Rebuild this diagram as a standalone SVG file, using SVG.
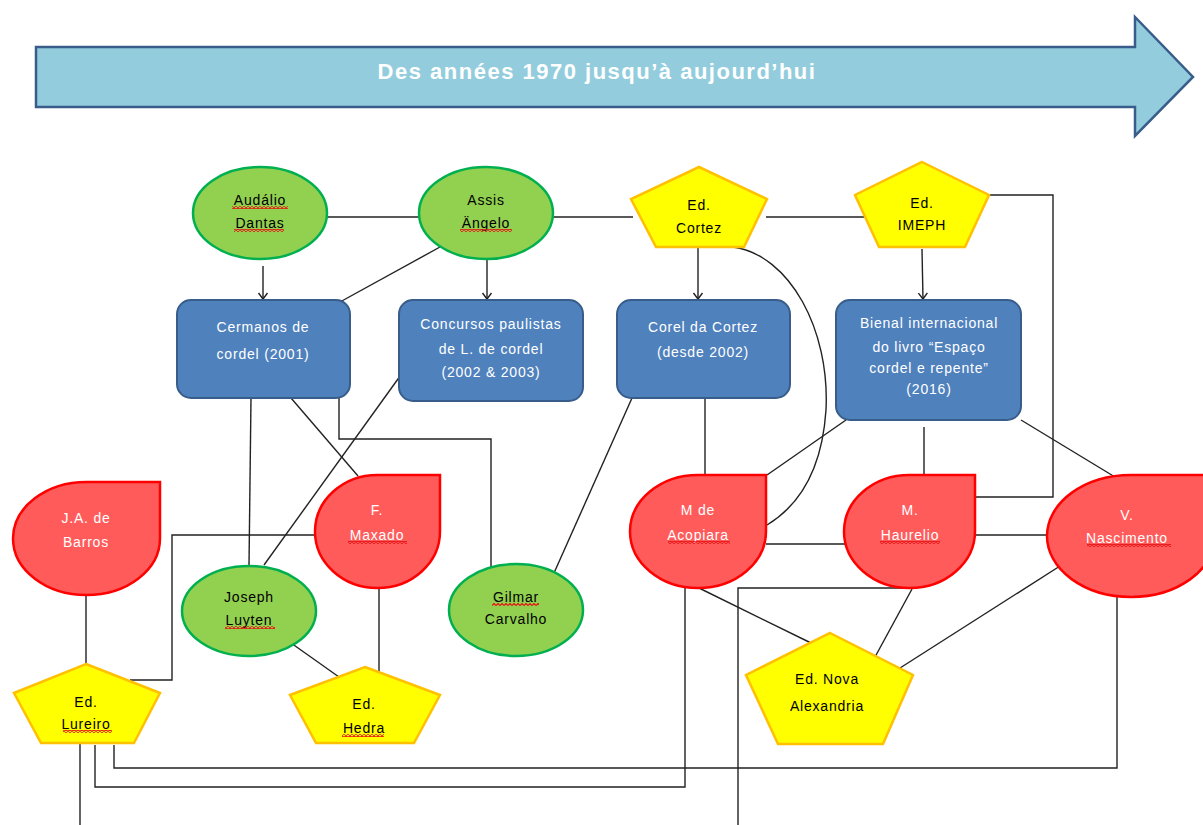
<svg xmlns="http://www.w3.org/2000/svg" width="1203" height="825" viewBox="0 0 1203 825">
<style>
.t{font-family:"Liberation Sans",Arial,sans-serif;font-size:14px;letter-spacing:0.8px;text-anchor:middle}
.w{fill:#fff}
.k{fill:#000}
.green{fill:#92D050;stroke:#00B050;stroke-width:2.5}
.red{fill:#FF5B5B;stroke:#FF0000;stroke-width:2.5}
.yel{fill:#FFFF00;stroke:#FFC000;stroke-width:2.5}
.blue{fill:#4F81BD;stroke:#385D8A;stroke-width:2}
.c{fill:none;stroke:#222;stroke-width:1.4}
.sp{fill:url(#wavy)}
</style>
<defs>
<marker id="arr" markerWidth="12" markerHeight="12" refX="9" refY="6" orient="auto" markerUnits="userSpaceOnUse">
<path d="M3,1.5 L9,6 L3,10.5" fill="none" stroke="#222" stroke-width="1.4"/>
</marker>
<pattern id="wavy" width="4" height="3" patternUnits="userSpaceOnUse">
<path d="M0,2.5 L2,0.5 L4,2.5" fill="none" stroke="#E81010" stroke-width="1.2"/>
</pattern>
</defs>

<g id="banner">
<path d="M36,47 L1135,47 L1135,17 L1193,77 L1135,136 L1135,107 L36,107 Z" fill="#93CDDD" stroke="#385D8A" stroke-width="2.5"/>
<text x="597" y="79" style="font-family:'Liberation Sans',Arial,sans-serif;font-size:22px;font-weight:bold;letter-spacing:1.5px;text-anchor:middle" fill="#fff">Des années 1970 jusqu’à aujourd’hui</text>
</g>

<g id="connectors">
<line class="c" x1="327" y1="217" x2="419" y2="217"/>
<line class="c" x1="553" y1="217" x2="633" y2="217"/>
<line class="c" x1="766" y1="217" x2="865" y2="217"/>
<line class="c" x1="263" y1="266" x2="263" y2="299" marker-end="url(#arr)"/>
<line class="c" x1="487" y1="259" x2="487" y2="299" marker-end="url(#arr)"/>
<line class="c" x1="440" y1="247" x2="340" y2="302"/>
<line class="c" x1="698" y1="247" x2="698" y2="299" marker-end="url(#arr)"/>
<line class="c" x1="922" y1="249" x2="923" y2="299" marker-end="url(#arr)"/>
<polyline class="c" points="989,195 1053,195 1053,497 976,497"/>
<path class="c" d="M733,247 C790,255 830,330 826,410 C822,470 800,505 767,525"/>
<line class="c" x1="705" y1="398" x2="705" y2="475"/>
<line class="c" x1="632" y1="398" x2="554" y2="573"/>
<line class="c" x1="846" y1="420" x2="767" y2="475"/>
<line class="c" x1="924" y1="427" x2="924" y2="475"/>
<line class="c" x1="1021" y1="420" x2="1115" y2="477"/>
<line class="c" x1="766" y1="544" x2="846" y2="544"/>
<line class="c" x1="976" y1="535" x2="1048" y2="535"/>
<line class="c" x1="699" y1="588" x2="811" y2="643"/>
<line class="c" x1="912" y1="589" x2="875" y2="657"/>
<line class="c" x1="1060" y1="566" x2="900" y2="668"/>
<polyline class="c" points="685,588 685,787 95,787 95,745"/>
<polyline class="c" points="902,588 738,588 738,825"/>
<polyline class="c" points="1117,597 1117,768 114,768 114,745"/>
<line class="c" x1="80" y1="743" x2="80" y2="825"/>
<line class="c" x1="251" y1="398" x2="249" y2="566"/>
<line class="c" x1="291" y1="398" x2="358" y2="476"/>
<polyline class="c" points="339,398 339,439 491,439 491,575"/>
<line class="c" x1="403" y1="372" x2="264" y2="565"/>
<polyline class="c" points="317,535 172,535 172,680 130,680"/>
<line class="c" x1="86" y1="595" x2="86" y2="664"/>
<line class="c" x1="291" y1="643" x2="339" y2="677"/>
<line class="c" x1="379" y1="588" x2="379" y2="677"/>
</g>

<g id="audalio">
<ellipse class="green" cx="260" cy="213" rx="67" ry="46"/>
<text class="t k" x="260" y="205">Audálio</text>
<text class="t k" x="260" y="228">Dantas</text>
<rect class="sp" x="232" y="206" width="56" height="3"/>
<rect class="sp" x="234" y="229" width="50" height="3"/>
</g>
<g id="assis">
<ellipse class="green" cx="486" cy="213" rx="67" ry="46"/>
<text class="t k" x="486" y="205">Assis</text>
<text class="t k" x="486" y="228">Ängelo</text>
<rect class="sp" x="460" y="229" width="52" height="3"/>
</g>
<g id="cortez">
<polygon class="yel" points="699,167 767,199 744,247 656,247 631,199"/>
<text class="t k" x="699" y="210">Ed.</text>
<text class="t k" x="699" y="233">Cortez</text>
</g>
<g id="imeph">
<polygon class="yel" points="922,162 989,195 965,247 879,247 855,195"/>
<text class="t k" x="922" y="208">Ed.</text>
<text class="t k" x="922" y="230">IMEPH</text>
</g>

<g id="cermanos">
<rect class="blue" x="177" y="300" width="173" height="98" rx="14"/>
<text class="t w" x="263" y="332">Cermanos de</text>
<text class="t w" x="263" y="359">cordel (2001)</text>
</g>
<g id="concursos">
<rect class="blue" x="399" y="300" width="184" height="101" rx="14"/>
<text class="t w" x="491" y="329">Concursos paulistas</text>
<text class="t w" x="491" y="354">de L. de cordel</text>
<text class="t w" x="491" y="377">(2002 &amp; 2003)</text>
</g>
<g id="corel">
<rect class="blue" x="617" y="300" width="173" height="98" rx="14"/>
<text class="t w" x="703" y="332">Corel da Cortez</text>
<text class="t w" x="703" y="357">(desde 2002)</text>
</g>
<g id="bienal">
<rect class="blue" x="836" y="300" width="185" height="120" rx="14"/>
<text class="t w" x="929" y="328">Bienal internacional</text>
<text class="t w" x="929" y="352">do livro “Espaço</text>
<text class="t w" x="929" y="373">cordel e repente”</text>
<text class="t w" x="929" y="394">(2016)</text>
</g>

<g id="barros">
<path class="red" d="M86.5,482 L160,482 L160,538.5 A73.5,56.5 0 0 1 86.5,595 A73.5,56.5 0 0 1 13,538.5 A73.5,56.5 0 0 1 86.5,482 Z"/>
<text class="t w" x="86" y="523">J.A. de</text>
<text class="t w" x="86" y="547">Barros</text>
</g>
<g id="maxado">
<path class="red" d="M377.5,475 L440,475 L440,531.5 A62.5,56.5 0 0 1 377.5,588 A62.5,56.5 0 0 1 315,531.5 A62.5,56.5 0 0 1 377.5,475 Z"/>
<text class="t w" x="377" y="515">F.</text>
<text class="t w" x="377" y="540">Maxado</text>
<rect class="sp" x="348" y="541" width="59" height="3"/>
</g>
<g id="acopiara">
<path class="red" d="M698,475 L766,475 L766,531.5 A68,56.5 0 0 1 698,588 A68,56.5 0 0 1 630,531.5 A68,56.5 0 0 1 698,475 Z"/>
<text class="t w" x="698" y="515">M de</text>
<text class="t w" x="698" y="540">Acopiara</text>
<rect class="sp" x="668" y="541" width="62" height="3"/>
</g>
<g id="haurelio">
<path class="red" d="M909.5,475 L975,475 L975,531.5 A65.5,56.5 0 0 1 909.5,588 A65.5,56.5 0 0 1 844,531.5 A65.5,56.5 0 0 1 909.5,475 Z"/>
<text class="t w" x="910" y="515">M.</text>
<text class="t w" x="910" y="540">Haurelio</text>
<rect class="sp" x="880" y="541" width="60" height="3"/>
</g>
<g id="nascimento">
<path class="red" d="M1131,475 L1215,475 L1215,536 A84,61 0 0 1 1131,597 A84,61 0 0 1 1047,536 A84,61 0 0 1 1131,475 Z"/>
<text class="t w" x="1127" y="520">V.</text>
<text class="t w" x="1127" y="543">Nascimento</text>
<rect class="sp" x="1087" y="544" width="84" height="3"/>
</g>

<g id="joseph">
<ellipse class="green" cx="249" cy="611" rx="67" ry="45"/>
<text class="t k" x="249" y="602">Joseph</text>
<text class="t k" x="249" y="625">Luyten</text>
<rect class="sp" x="225" y="626" width="50" height="3"/>
</g>
<g id="gilmar">
<ellipse class="green" cx="516" cy="610" rx="67" ry="46"/>
<text class="t k" x="516" y="602">Gilmar</text>
<text class="t k" x="516" y="624">Carvalho</text>
<rect class="sp" x="492" y="603" width="47" height="3"/>
</g>
<g id="lureiro">
<polygon class="yel" points="86,664 160,693 134,743 41,743 14,693"/>
<text class="t k" x="86" y="707">Ed.</text>
<text class="t k" x="86" y="729">Lureiro</text>
<rect class="sp" x="63" y="730" width="49" height="3"/>
</g>
<g id="hedra">
<polygon class="yel" points="365,667 440,695 414,743 316,743 290,695"/>
<text class="t k" x="364" y="709">Ed.</text>
<text class="t k" x="364" y="733">Hedra</text>
<rect class="sp" x="342" y="734" width="42" height="3"/>
</g>
<g id="nova">
<polygon class="yel" points="830,633 913,675 883,744 778,744 746,675"/>
<text class="t k" x="827" y="684">Ed. Nova</text>
<text class="t k" x="827" y="711">Alexandria</text>
</g>
</svg>
